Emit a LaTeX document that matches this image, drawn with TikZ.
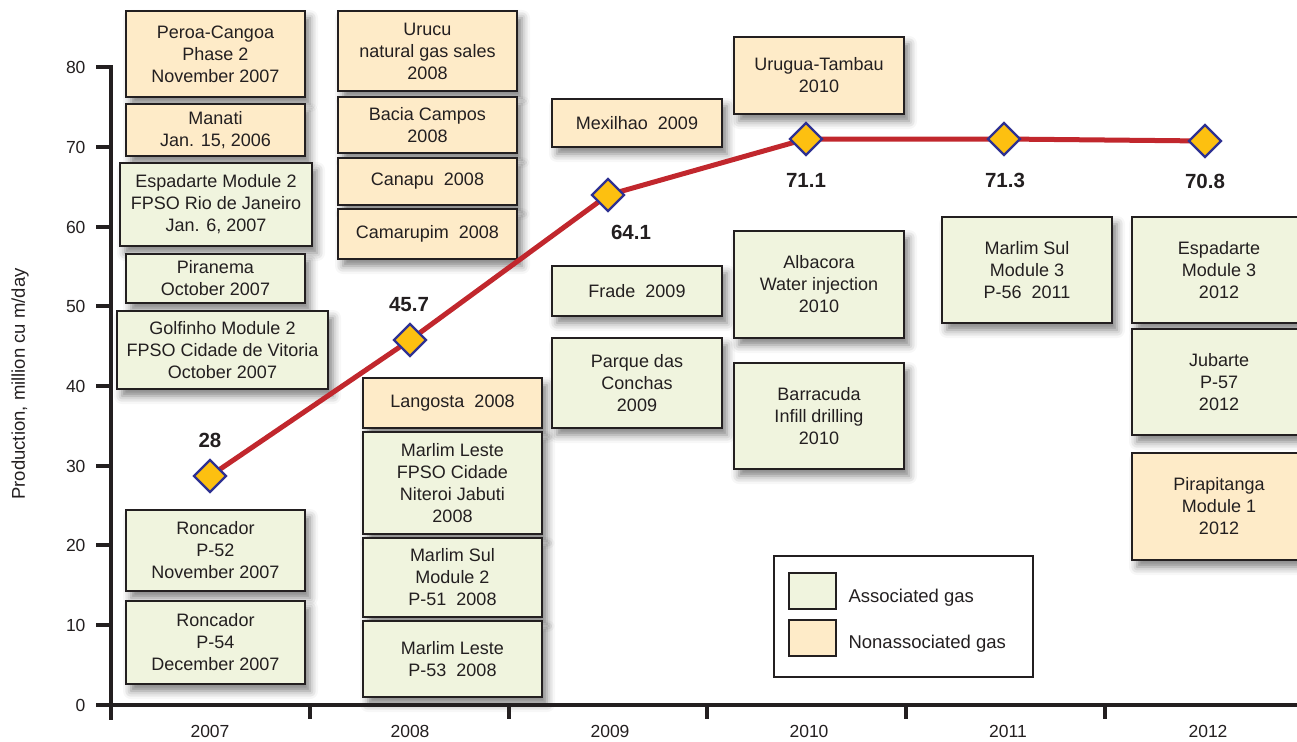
\documentclass[tikz,border=0pt]{standalone}
\usepackage{fontspec}
\setmainfont{Liberation Sans}
\usetikzlibrary{shapes.geometric,shadows.blur}
\definecolor{assocfill}{RGB}{240,244,222}
\definecolor{nonassocfill}{RGB}{254,235,200}
\definecolor{boxline}{RGB}{35,31,32}
\definecolor{prodred}{RGB}{193,39,45}
\definecolor{markfill}{RGB}{253,192,16}
\definecolor{markline}{RGB}{46,49,146}
\begin{document}
\begin{tikzpicture}[x=1pt,y=-1pt,
	gasbox/.style={draw=boxline, line width=2.2pt, inner sep=0pt,
        align=center, text=boxline, font=\fontsize{18}{22}\selectfont,
        blur shadow={shadow xshift=5pt, shadow yshift=-7pt,
        shadow blur radius=8pt, shadow opacity=50}},
	assoc/.style={gasbox, fill=assocfill},
	nonassoc/.style={gasbox, fill=nonassocfill},
	prodmark/.style={diamond, draw=markline, line width=2.4pt,
        fill=markfill, minimum width=33pt, minimum height=33pt,
        inner sep=0pt},
	vallabel/.style={font=\bfseries\fontsize{20.5}{24}\selectfont,
        text=boxline},
	ticklabel/.style={font=\fontsize{17.5}{20}\selectfont, text=boxline},
	axisline/.style={draw=boxline, line width=3.5pt},
	swatch/.style={draw=boxline, line width=2pt, inner sep=0pt,
        minimum width=47pt, minimum height=36pt}]

	\useasboundingbox (0,0) rectangle (1297,741);
	\clip (0,0) rectangle (1297,741);

	% boxes, 2007
	\node[nonassoc, minimum width=179, minimum height=86] (peroa) at
        (215.5,54) {Peroa-Cangoa\\Phase 2\\November 2007};
	\node[nonassoc, minimum width=179, minimum height=52] (manati) at
        (215.5,130) {Manati\\Jan. 15, 2006};
	\node[assoc, minimum width=192, minimum height=83] (espadartetwo) at
        (216,204.5) {Espadarte Module 2\\FPSO Rio de Janeiro\\Jan. 6, 2007};
	\node[assoc, minimum width=179, minimum height=49] (piranema) at
        (215.5,278.5) {Piranema\\October 2007};
	\node[assoc, minimum width=211, minimum height=78] (golfinho) at
        (222.5,350) {Golfinho Module 2\\FPSO Cidade de Vitoria\\October 2007};
	\node[assoc, minimum width=179, minimum height=81] (roncadora) at
        (215.5,550.5) {Roncador\\P-52\\November 2007};
	\node[assoc, minimum width=179, minimum height=83] (roncadorb) at
        (215.5,642.5) {Roncador\\P-54\\December 2007};

	% boxes, 2008
	\node[nonassoc, minimum width=179, minimum height=80] (urucu) at
        (427.5,51) {Urucu\\natural gas sales\\2008};
	\node[nonassoc, minimum width=179, minimum height=56] (bacia) at
        (427.5,125) {Bacia Campos\\2008};
	\node[nonassoc, minimum width=179, minimum height=47] (canapu) at
        (427.5,181.5) {Canapu\ \ 2008};
	\node[nonassoc, minimum width=179, minimum height=50] (camarupim) at
        (427.5,234) {Camarupim\ \ 2008};
	\node[nonassoc, minimum width=179, minimum height=50] (langosta) at
        (452.5,403) {Langosta\ \ 2008};
	\node[assoc, minimum width=179, minimum height=102] (marlimleste) at
        (452.5,483) {Marlim Leste\\FPSO Cidade\\Niteroi Jabuti\\2008};
	\node[assoc, minimum width=179, minimum height=79] (marlimsultwo) at
        (452.5,577.5) {Marlim Sul\\Module 2\\P-51\ \ 2008};
	\node[assoc, minimum width=179, minimum height=76] (marlimlestep) at
        (452.5,659) {Marlim Leste\\P-53\ \ 2008};

	% boxes, 2009 to 2012
	\node[nonassoc, minimum width=170, minimum height=48] (mexilhao) at
        (637,123) {Mexilhao\ \ 2009};
	\node[assoc, minimum width=170, minimum height=50] (frade) at
        (637,291) {Frade\ \ 2009};
	\node[assoc, minimum width=170, minimum height=90] (parque) at
        (637,383) {Parque das\\Conchas\\2009};
	\node[nonassoc, minimum width=170, minimum height=77] (urugua) at
        (819,75.5) {Urugua-Tambau\\2010};
	\node[assoc, minimum width=170, minimum height=107] (albacora) at
        (819,284.5) {Albacora\\Water injection\\2010};
	\node[assoc, minimum width=170, minimum height=106] (barracuda) at
        (819,416) {Barracuda\\Infill drilling\\2010};
	\node[assoc, minimum width=170, minimum height=106] (marlimsulthree)
        at (1027,270) {Marlim Sul\\Module 3\\P-56\ \ 2011};
	\node[assoc, minimum width=174, minimum height=106] (espadartethree)
        at (1219,270) {Espadarte\\Module 3\\2012};
	\node[assoc, minimum width=174, minimum height=106] (jubarte) at
        (1219,382) {Jubarte\\P-57\\2012};
	\node[nonassoc, minimum width=174, minimum height=107] (pirapitanga)
        at (1219,506.5) {Pirapitanga\\Module 1\\2012};

	% axes
	\draw[axisline] (111,65.5) -- (111,720); \draw[axisline] (96,705)
        -- (1297,705);
	\draw[axisline] (96,67) -- (111,67); \draw[axisline] (96,147) --
        (111,147); \draw[axisline] (96,227) -- (111,227);
        \draw[axisline] (96,306) -- (111,306); \draw[axisline] (96,386)
        -- (111,386); \draw[axisline] (96,466) -- (111,466);
        \draw[axisline] (96,545) -- (111,545); \draw[axisline] (96,625)
        -- (111,625);
	\draw[axisline] (310,705) -- (310,719); \draw[axisline] (509,705)
        -- (509,719); \draw[axisline] (707,705) -- (707,719);
        \draw[axisline] (906,705) -- (906,719); \draw[axisline]
        (1105,705) -- (1105,719);

	\node[ticklabel, anchor=east] (yeighty) at (89,67) {80};
	\node[ticklabel, anchor=east] (yseventy) at (89,147) {70};
	\node[ticklabel, anchor=east] (ysixty) at (89,227) {60};
	\node[ticklabel, anchor=east] (yfifty) at (89,306) {50};
	\node[ticklabel, anchor=east] (yforty) at (89,386) {40};
	\node[ticklabel, anchor=east] (ythirty) at (89,466) {30};
	\node[ticklabel, anchor=east] (ytwenty) at (89,545) {20};
	\node[ticklabel, anchor=east] (yten) at (89,625) {10};
	\node[ticklabel, anchor=east] (yzero) at (89,705) {0};

	\node[ticklabel] (yrseven) at (210,731) {2007};
	\node[ticklabel] (yreight) at (410,731) {2008};
	\node[ticklabel] (yrnine) at (610,731) {2009};
	\node[ticklabel] (yrten) at (809,731) {2010};
	\node[ticklabel] (yreleven) at (1008,731) {2011};
	\node[ticklabel] (yrtwelve) at (1208,731) {2012};

	\node[ticklabel, rotate=90, font=\fontsize{18.5}{20}\selectfont]
        (ylabel) at (20,384) {Production, million cu m/day};

	% production curve
	\coordinate (pseven) at (210,476); \coordinate (peight) at
        (410,340); \coordinate (pnine) at (608,195); \coordinate (pten)
        at (806,139); \coordinate (peleven) at (1004,139);
        \coordinate (ptwelve) at (1205,141);
	\draw[prodred, line width=5pt, line join=round] (pseven) --
        (peight) -- (pnine) -- (pten) -- (peleven) -- (ptwelve);

	\node[prodmark] (mseven) at (pseven) {}; \node[prodmark] (meight)
        at (peight) {}; \node[prodmark] (mnine) at (pnine) {};
        \node[prodmark] (mten) at (pten) {}; \node[prodmark] (meleven)
        at (peleven) {}; \node[prodmark] (mtwelve) at (ptwelve) {};

	\node[vallabel] (vseven) at (210,440) {28};
	\node[vallabel] (veight) at (409,305) {45.7};
	\node[vallabel] (vnine) at (631,232) {64.1};
	\node[vallabel] (vten) at (806,180) {71.1};
	\node[vallabel] (veleven) at (1005,180) {71.3};
	\node[vallabel] (vtwelve) at (1205,181) {70.8};

	% legend
	\node[draw=boxline, line width=2pt, inner sep=0pt, minimum
        width=259, minimum height=121] (legend) at (903.5,616.5) {};
	\node[swatch, fill=assocfill] (swassoc) at (812.5,591) {};
	\node[swatch, fill=nonassocfill] (swnonassoc) at (812.5,637.5) {};
	\node[ticklabel, anchor=west, font=\fontsize{18.5}{20}\selectfont]
        (lassoc) at (845,598) {Associated gas};
	\node[ticklabel, anchor=west, font=\fontsize{18.5}{20}\selectfont]
        (lnonassoc) at (845,644) {Nonassociated gas};
      \end{tikzpicture}
\end{document}
